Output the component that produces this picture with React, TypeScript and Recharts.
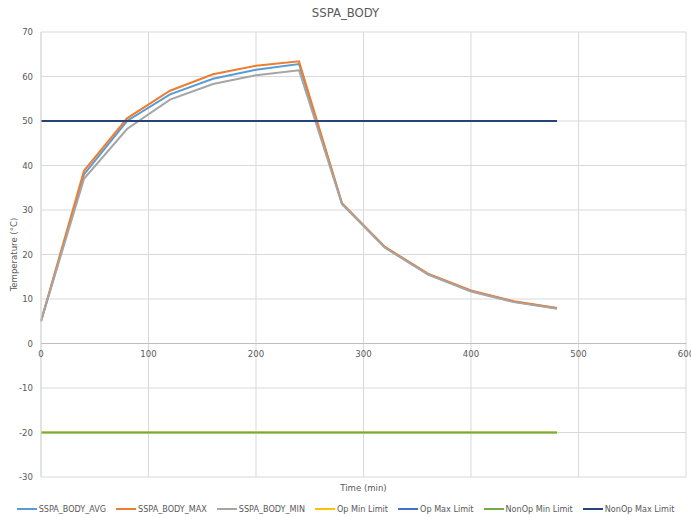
import React from "react";
import {
  LineChart, Line, XAxis, YAxis, CartesianGrid, Legend, ReferenceLine,
} from "recharts";

const times = [0, 40, 80, 120, 160, 200, 240, 280, 320, 360, 400, 440, 480];
const bodyAvg = [5, 38, 50, 56, 59.5, 61.5, 62.8, 31.4, 21.6, 15.6, 11.8, 9.4, 7.9];
const bodyMax = [5, 38.8, 50.6, 56.8, 60.5, 62.4, 63.4, 31.5, 21.7, 15.7, 11.9, 9.5, 8.0];
const bodyMin = [5, 37, 48.2, 54.8, 58.3, 60.3, 61.4, 31.3, 21.5, 15.5, 11.7, 9.3, 7.8];
const opMin = [-20, -20, -20, -20, -20, -20, -20, -20, -20, -20, -20, -20, -20];
const opMax = [50, 50, 50, 50, 50, 50, 50, 50, 50, 50, 50, 50, 50];
const nonOpMin = [-20, -20, -20, -20, -20, -20, -20, -20, -20, -20, -20, -20, -20];
const nonOpMax = [50, 50, 50, 50, 50, 50, 50, 50, 50, 50, 50, 50, 50];

const xTicks = [0, 100, 200, 300, 400, 500, 600];
const yTicks = [-30, -20, -10, 0, 10, 20, 30, 40, 50, 60, 70];

const SERIES = [
  { key: "SSPA_BODY_AVG", values: bodyAvg, color: "#5B9BD5" },
  { key: "SSPA_BODY_MAX", values: bodyMax, color: "#ED7D31" },
  { key: "SSPA_BODY_MIN", values: bodyMin, color: "#A5A5A5" },
  { key: "Op Min Limit", values: opMin, color: "#FFC000" },
  { key: "Op Max Limit", values: opMax, color: "#4472C4" },
  { key: "NonOp Min Limit", values: nonOpMin, color: "#70AD47" },
  { key: "NonOp Max Limit", values: nonOpMax, color: "#264478" },
];

const rows = times.map((t, i) => {
  const r: Record<string, number> = { t };
  SERIES.forEach((s) => (r[s.key] = s.values[i]));
  return r;
});

const FONT = "'Liberation Sans Narrow', 'DejaVu Sans Condensed', Roboto, sans-serif";
const TXT = "#595959";
const PLOT_H = 445;

const XTick = (props: any) => {
  const { x, y, payload } = props;
  // category axis crosses at y = 0, i.e. 30% of the plot height above the bottom
  return (
    <text x={x} y={y - PLOT_H * 0.3 + 13} textAnchor="middle" fontSize={9.5} fill={TXT} fontFamily={FONT}>
      {payload.value}
    </text>
  );
};

const LegendContent = () => (
  <div style={{ display: "flex", justifyContent: "center", gap: 10, fontFamily: FONT, fontSize: 9, color: TXT, whiteSpace: "nowrap" }}>
    {SERIES.map((s) => (
      <div key={s.key} style={{ display: "flex", alignItems: "center" }}>
        <span style={{ display: "inline-block", width: 20, height: 2, background: s.color, marginRight: 2 }} />
        {s.key}
      </div>
    ))}
  </div>
);

export default function App() {
  return (
    <div style={{ position: "absolute", left: 0, top: 0, width: 691, height: 517, background: "#fff" }}>
      <div style={{ position: "absolute", top: 5, width: 691, textAlign: "center", fontFamily: FONT, fontSize: 13, color: TXT }}>
        SSPA_BODY
      </div>
      <LineChart width={691} height={517} data={rows} margin={{ top: 32, right: 5, bottom: 20, left: 0 }}>
        <CartesianGrid stroke="#d9d9d9" strokeWidth={1} />
        <XAxis
          dataKey="t"
          type="number"
          domain={[0, 600]}
          ticks={xTicks}
          height={20}
          axisLine={false}
          tickLine={false}
          tickSize={0}
          tickMargin={0}
          tick={<XTick />}
          interval={0}
          label={{ value: "Time (min)", position: "insideBottom", offset: 6, fontSize: 9.5, fill: TXT, fontFamily: FONT }}
        />
        <YAxis
          type="number"
          domain={[-30, 70]}
          ticks={yTicks}
          width={41}
          axisLine={{ stroke: "#d9d9d9" }}
          tickLine={false}
          tickSize={0}
          tickMargin={8}
          interval={0}
          tick={{ fontSize: 9.5, fill: TXT, fontFamily: FONT }}
          label={{ value: "Temperature (°C)", angle: -90, position: "insideLeft", offset: 14, fontSize: 9.5, fill: TXT, fontFamily: FONT, style: { textAnchor: "middle" } }}
        />
        <ReferenceLine y={0} stroke="#bfbfbf" strokeWidth={1} />
        {SERIES.map((s) => (
          <Line
            key={s.key}
            dataKey={s.key}
            stroke={s.color}
            strokeWidth={2}
            dot={false}
            type="linear"
            isAnimationActive={false}
          />
        ))}
        <Legend verticalAlign="middle" wrapperStyle={{ top: 504, left: 0, width: 691 }} content={<LegendContent />} />
      </LineChart>
    </div>
  );
}
